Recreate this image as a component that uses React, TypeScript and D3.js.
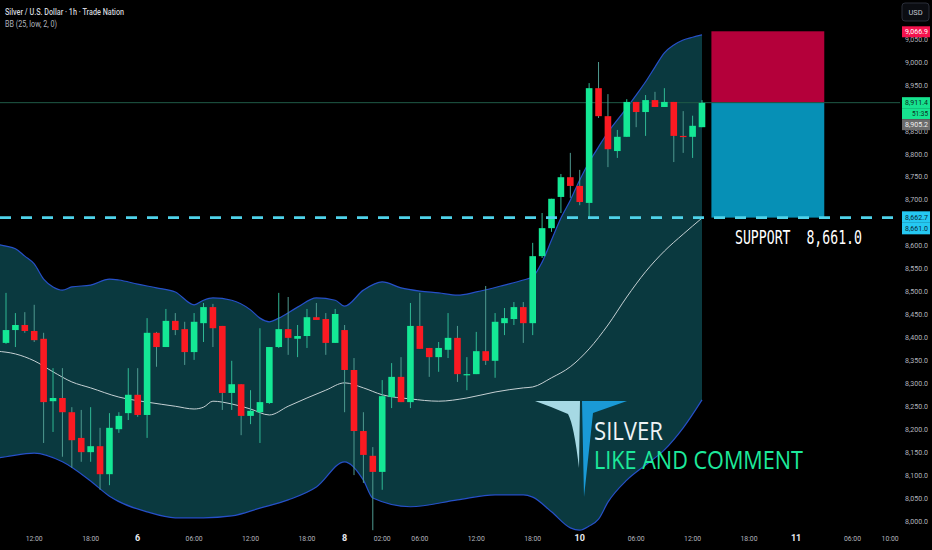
import React, { useEffect, useRef } from 'react';
import * as d3 from 'd3';

// hourly candles (index 0 = leftmost bar)
const openPrices = [
  8388, 8416, 8427, 8414, 8397, 8261, 8268, 8237, 8181, 8150,
  8163, 8102, 8200, 8235, 8275, 8231, 8410, 8379, 8436, 8418,
  8368, 8431, 8466, 8425, 8279, 8298, 8229, 8237, 8257, 8379,
  8418, 8397, 8403, 8444, 8440, 8388, 8416, 8329, 8196, 8142,
  8107, 8270, 8314, 8259, 8425, 8377, 8357, 8373, 8399, 8318,
  8320, 8370, 8349, 8431, 8440, 8466, 8431, 8577, 8638, 8706,
  8749, 8730, 8693, 8943, 8882, 8806, 8837, 8913, 8891, 8917,
  8902, 8913, 8839, 8837, 8858,
];
const highPrices = [
  8497, 8453, 8455, 8471, 8410, 8333, 8333, 8248, 8242, 8248,
  8203, 8235, 8237, 8333, 8333, 8442, 8412, 8462, 8453, 8434,
  8453, 8475, 8473, 8425, 8349, 8298, 8285, 8420, 8379, 8497,
  8488, 8427, 8462, 8475, 8453, 8462, 8427, 8355, 8237, 8161,
  8307, 8344, 8357, 8475, 8497, 8377, 8390, 8453, 8425, 8357,
  8412, 8512, 8453, 8464, 8477, 8477, 8606, 8671, 8702, 8756,
  8802, 8765, 8954, 9000, 8930, 8852, 8919, 8913, 8928, 8935,
  8943, 8913, 8893, 8883, 8917,
];
const lowPrices = [
  8386, 8379, 8410, 8390, 8170, 8194, 8140, 8116, 8129, 8129,
  8068, 8078, 8192, 8220, 8227, 8181, 8336, 8379, 8405, 8340,
  8351, 8390, 8379, 8242, 8242, 8187, 8211, 8170, 8255, 8377,
  8362, 8357, 8377, 8438, 8362, 8388, 8237, 8100, 8083, 7980,
  8068, 8246, 8259, 8246, 8375, 8314, 8325, 8355, 8303, 8285,
  8320, 8340, 8312, 8405, 8427, 8388, 8405, 8573, 8630, 8671,
  8704, 8688, 8662, 8878, 8771, 8791, 8837, 8858, 8839, 8902,
  8902, 8782, 8802, 8791, 8858,
];
const closePrices = [
  8416, 8427, 8414, 8394, 8259, 8268, 8237, 8176, 8150, 8163,
  8102, 8203, 8229, 8275, 8231, 8410, 8379, 8436, 8416, 8368,
  8434, 8466, 8420, 8279, 8298, 8229, 8240, 8259, 8379, 8418,
  8399, 8403, 8444, 8438, 8388, 8451, 8329, 8196, 8144, 8107,
  8272, 8314, 8259, 8425, 8375, 8357, 8377, 8399, 8320, 8320,
  8370, 8349, 8434, 8442, 8466, 8431, 8577, 8638, 8702, 8749,
  8730, 8695, 8943, 8882, 8810, 8837, 8913, 8891, 8917, 8902,
  8913, 8839, 8837, 8861, 8911,
];

// Bollinger bands (25, low, 2) as [bar index, price]
const upperBand: [number, number][] = [
  [-1, 8603], [0, 8599], [1, 8593], [2, 8577], [3, 8560], [4, 8527], [5, 8510],
  [6, 8503], [7, 8510], [9, 8514], [11, 8527], [12, 8525], [14, 8516], [16, 8508],
  [18, 8499], [20, 8471], [21, 8481], [22, 8486], [24, 8481], [26, 8460], [27, 8442],
  [28, 8434], [29, 8442], [31, 8466], [33, 8486], [35, 8481], [36, 8468], [38, 8503],
  [40, 8521], [42, 8508], [44, 8501], [46, 8497], [48, 8492], [50, 8499], [53, 8514],
  [55, 8525], [56, 8532], [57, 8564], [58, 8612], [59, 8660], [60, 8699], [61, 8743],
  [62, 8782], [63, 8815], [64, 8847], [65, 8874], [66, 8900], [67, 8928], [68, 8957],
  [69, 8989], [70, 9020], [71, 9037], [72, 9048], [73, 9054], [74, 9059],
];
const middleBand: [number, number][] = [
  [-1, 8370], [1, 8364], [3, 8349], [5, 8325], [7, 8303], [9, 8290], [12, 8270],
  [15, 8259], [18, 8250], [20, 8244], [21, 8248], [22, 8261], [24, 8255], [26, 8244],
  [28, 8231], [30, 8250], [32, 8268], [34, 8285], [36, 8301], [38, 8290], [40, 8275],
  [43, 8266], [46, 8261], [49, 8268], [52, 8281], [55, 8290], [56, 8292], [58, 8312],
  [60, 8336], [62, 8375], [64, 8427], [66, 8488], [68, 8543], [70, 8588], [72, 8625],
  [74, 8660],
];
const lowerBand: [number, number][] = [
  [-1, 8137], [0, 8140], [3, 8148], [6, 8129], [9, 8087], [11, 8054], [15, 8020],
  [18, 8007], [21, 8007], [24, 8011], [27, 8028], [30, 8046], [33, 8074], [36, 8129],
  [38, 8089], [39, 8050], [43, 8031], [48, 8046], [52, 8057], [55, 8057], [56, 8052],
  [58, 8020], [60, 7985], [61, 7980], [62, 7989], [63, 8004], [64, 8041], [66, 8089],
  [68, 8122], [70, 8155], [72, 8203], [74, 8264],
];

const timeTickIndex = [3, 9, 14, 20, 26, 32, 36, 40, 44, 50, 56, 61, 67, 73, 79, 84, 90, 94];
const timeTickLabels = [
  '12:00', '18:00', '6', '06:00', '12:00', '18:00', '8', '02:00', '06:00',
  '12:00', '18:00', '10', '06:00', '12:00', '18:00', '11', '06:00', '10:00',
];
const priceTicks = [
  8000, 8050, 8100, 8150, 8200, 8250, 8300, 8350, 8400, 8450, 8500,
  8550, 8600, 8650, 8700, 8750, 8800, 8850, 8900, 8950, 9000, 9050,
];

const supportLevel = 8661.0;
const supportMark = 8662.7;
const lastPrice = 8911.4;
const prevPrice = 8905.2;
const targetPrice = 9066.9;
const countdown = '51:35';
const boxStart = 75;
const boxEnd = 87;

const UP = '#14e895';
const DOWN = '#fb1a22';

export default function App() {
  const svgRef = useRef<SVGSVGElement>(null);

  useEffect(() => {
    if (!svgRef.current) return;
    const W = 932;
    const H = 550;
    const svg = d3.select(svgRef.current);
    svg.selectAll('*').remove();

    const x = d3.scaleLinear().domain([0, 74]).range([6, 702]);
    const y = d3.scaleLinear().domain([8000, 9000]).range([521, 62]);
    const fmt = d3.format(',.1f');

    svg.append('rect').attr('width', W).attr('height', H).attr('fill', '#000');

    const defs = svg.append('defs');
    defs
      .append('clipPath')
      .attr('id', 'plot')
      .append('rect')
      .attr('x', 0)
      .attr('y', 0)
      .attr('width', 900)
      .attr('height', 532);

    // fill between bands: area above the lower band clipped to area below the upper band
    const belowUpper = d3
      .area<[number, number]>()
      .x((d) => x(d[0]))
      .y0(H)
      .y1((d) => y(d[1]))
      .curve(d3.curveMonotoneX);
    defs
      .append('clipPath')
      .attr('id', 'belowUpper')
      .append('path')
      .attr('d', belowUpper(upperBand) as string);

    const aboveLower = d3
      .area<[number, number]>()
      .x((d) => x(d[0]))
      .y0(0)
      .y1((d) => y(d[1]))
      .curve(d3.curveMonotoneX);

    const plot = svg.append('g').attr('clip-path', 'url(#plot)');

    plot
      .append('g')
      .attr('clip-path', 'url(#belowUpper)')
      .append('path')
      .attr('d', aboveLower(lowerBand) as string)
      .attr('fill', '#0a393f');

    const bandLine = d3
      .line<[number, number]>()
      .x((d) => x(d[0]))
      .y((d) => y(d[1]))
      .curve(d3.curveMonotoneX);

    [upperBand, lowerBand].forEach((band) => {
      plot
        .append('path')
        .attr('d', bandLine(band) as string)
        .attr('fill', 'none')
        .attr('stroke', '#2650c8')
        .attr('stroke-width', 1.2);
    });
    plot
      .append('path')
      .attr('d', bandLine(middleBand) as string)
      .attr('fill', 'none')
      .attr('stroke', '#c5d0d3')
      .attr('stroke-width', 1);

    // risk / reward boxes
    plot
      .append('rect')
      .attr('x', x(boxStart))
      .attr('width', x(boxEnd) - x(boxStart))
      .attr('y', y(targetPrice))
      .attr('height', y(lastPrice) - y(targetPrice))
      .attr('fill', '#b4003a');
    plot
      .append('rect')
      .attr('x', x(boxStart))
      .attr('width', x(boxEnd) - x(boxStart))
      .attr('y', y(lastPrice))
      .attr('height', y(supportLevel) - y(lastPrice))
      .attr('fill', '#0690b6');

    // last price line
    plot
      .append('line')
      .attr('x1', 0)
      .attr('x2', 902)
      .attr('y1', y(lastPrice))
      .attr('y2', y(lastPrice))
      .attr('stroke', '#1f5a47')
      .attr('stroke-width', 1);

    // candles
    const candles = d3.range(openPrices.length).map((i) => ({
      i,
      o: openPrices[i],
      h: highPrices[i],
      l: lowPrices[i],
      c: closePrices[i],
    }));
    const cg = plot.append('g');
    cg.selectAll('line.wick')
      .data(candles)
      .enter()
      .append('line')
      .attr('x1', (d) => x(d.i))
      .attr('x2', (d) => x(d.i))
      .attr('y1', (d) => y(d.h))
      .attr('y2', (d) => y(d.l))
      .attr('stroke', (d) => (d.c >= d.o ? '#2fb894' : '#4f9a90'))
      .attr('stroke-width', 1);
    cg.selectAll('rect.body')
      .data(candles)
      .enter()
      .append('rect')
      .attr('x', (d) => x(d.i) - 3.3)
      .attr('width', 6.6)
      .attr('y', (d) => y(Math.max(d.o, d.c)))
      .attr('height', (d) => Math.max(1.2, Math.abs(y(d.o) - y(d.c))))
      .attr('fill', (d) => (d.c >= d.o ? UP : DOWN));

    // support dashed line
    plot
      .append('line')
      .attr('x1', 0)
      .attr('x2', 902)
      .attr('y1', y(supportLevel))
      .attr('y2', y(supportLevel))
      .attr('stroke', '#4fd3ea')
      .attr('stroke-width', 2.6)
      .attr('stroke-dasharray', '11 10');

    svg
      .append('text')
      .attr('x', 735)
      .attr('y', 244)
      .attr('fill', '#ffffff')
      .attr('font-family', '"DejaVu Sans Mono", monospace')
      .attr('font-size', 19)
      .attr('textLength', 127)
      .attr('lengthAdjust', 'spacingAndGlyphs')
      .text(`SUPPORT\u00a0\u00a0${fmt(supportLevel)}`);

    // watermark logo
    const logo = svg.append('g');
    logo
      .append('path')
      .attr('d', 'M535,401 L580,401 L579,468 Q574,425 568,414 Q552,407 535,401 Z')
      .attr('fill', '#a6d9e4');
    logo
      .append('path')
      .attr('d', 'M582,401 L627,401 L593,413 L584,497 Z')
      .attr('fill', '#1a9ad6');
    logo
      .append('text')
      .attr('x', 594)
      .attr('y', 440)
      .attr('fill', '#eef3f6')
      .attr('font-family', '"Open Sans", sans-serif')
      .attr('font-size', 25)
      .attr('textLength', 69)
      .attr('lengthAdjust', 'spacingAndGlyphs')
      .text('SILVER');
    logo
      .append('text')
      .attr('x', 594)
      .attr('y', 469)
      .attr('fill', '#1de99b')
      .attr('font-family', '"Open Sans", sans-serif')
      .attr('font-size', 25)
      .attr('textLength', 209)
      .attr('lengthAdjust', 'spacingAndGlyphs')
      .text('LIKE AND COMMENT');

    // header
    svg
      .append('text')
      .attr('x', 5)
      .attr('y', 15)
      .attr('fill', '#d1d4dc')
      .attr('font-family', 'Roboto, sans-serif')
      .attr('font-size', 8.5)
      .attr('font-weight', 500)
      .attr('textLength', 119)
      .attr('lengthAdjust', 'spacingAndGlyphs')
      .text('Silver / U.S. Dollar · 1h · Trade Nation');
    svg
      .append('text')
      .attr('x', 5)
      .attr('y', 27)
      .attr('fill', '#b2b5be')
      .attr('font-family', 'Roboto, sans-serif')
      .attr('font-size', 8.5)
      .attr('textLength', 52)
      .attr('lengthAdjust', 'spacingAndGlyphs')
      .text('BB (25, low, 2, 0)');

    // price axis; badges sit on top, ticks fully hidden under a badge are skipped
    const badgeSpans: [number, number][] = [];
    const tY = y(targetPrice);
    const lY = y(lastPrice);
    const sY = y(supportMark);
    badgeSpans.push([tY - 5, tY + 6], [lY - 5.5, lY + 27.5], [sY - 5.5, sY + 17.5]);

    const axis = svg.append('g').attr('font-family', 'Roboto, sans-serif').attr('font-size', 7.5);
    axis
      .selectAll('text.tick')
      .data(priceTicks.filter((p) => !badgeSpans.some(([a, b]) => y(p) > a && y(p) < b)))
      .enter()
      .append('text')
      .attr('x', 928)
      .attr('y', (d) => y(d) + 2.7)
      .attr('text-anchor', 'end')
      .attr('fill', '#b2b5be')
      .attr('textLength', 23)
      .attr('lengthAdjust', 'spacingAndGlyphs')
      .text((d) => fmt(d));

    const badge = (
      top: number,
      h: number,
      fill: string,
      color: string,
      label: string
    ) => {
      axis.append('rect').attr('x', 902).attr('y', top).attr('width', 28).attr('height', h).attr('fill', fill);
      axis
        .append('text')
        .attr('x', 928)
        .attr('y', top + h / 2 + 2.7)
        .attr('text-anchor', 'end')
        .attr('fill', color)
        .attr('textLength', label.length > 5 ? 23 : 16)
        .attr('lengthAdjust', 'spacingAndGlyphs')
        .text(label);
    };
    badge(tY - 5, 11, '#f5124d', '#ffffff', fmt(targetPrice));
    badge(lY - 5.5, 11, '#16e38f', '#0b2e22', fmt(lastPrice));
    badge(lY + 5.5, 11, '#16e38f', '#0b2e22', countdown);
    badge(lY + 16.5, 11, '#6b6b6b', '#f0f0f0', fmt(prevPrice));
    badge(sY - 5.5, 11.5, '#25c8f2', '#0a2838', fmt(supportMark));
    badge(sY + 6, 11.5, '#25c8f2', '#0a2838', fmt(supportLevel));

    // currency box
    svg
      .append('rect')
      .attr('x', 902)
      .attr('y', 3)
      .attr('width', 27)
      .attr('height', 18)
      .attr('rx', 3)
      .attr('fill', '#0b0d12')
      .attr('stroke', '#2a2e39');
    svg
      .append('text')
      .attr('x', 915.5)
      .attr('y', 15)
      .attr('text-anchor', 'middle')
      .attr('fill', '#c3c6ce')
      .attr('font-family', 'Roboto, sans-serif')
      .attr('font-size', 7.5)
      .text('USD');

    // time axis
    const tg = svg.append('g').attr('font-family', 'Roboto, sans-serif');
    timeTickIndex.forEach((idx, k) => {
      const label = timeTickLabels[k];
      const isDay = !label.includes(':');
      tg.append('text')
        .attr('x', x(idx))
        .attr('y', 541)
        .attr('text-anchor', 'middle')
        .attr('fill', isDay ? '#e8eaef' : '#b2b5be')
        .attr('font-size', isDay ? 9 : 7.5)
        .attr('font-weight', isDay ? 700 : 400)
        .attr('textLength', isDay ? null : 17)
        .attr('lengthAdjust', 'spacingAndGlyphs')
        .text(label);
    });
  }, []);

  return (
    <svg
      ref={svgRef}
      width={932}
      height={550}
      style={{ position: 'absolute', left: 0, top: 0, display: 'block' }}
    />
  );
}
